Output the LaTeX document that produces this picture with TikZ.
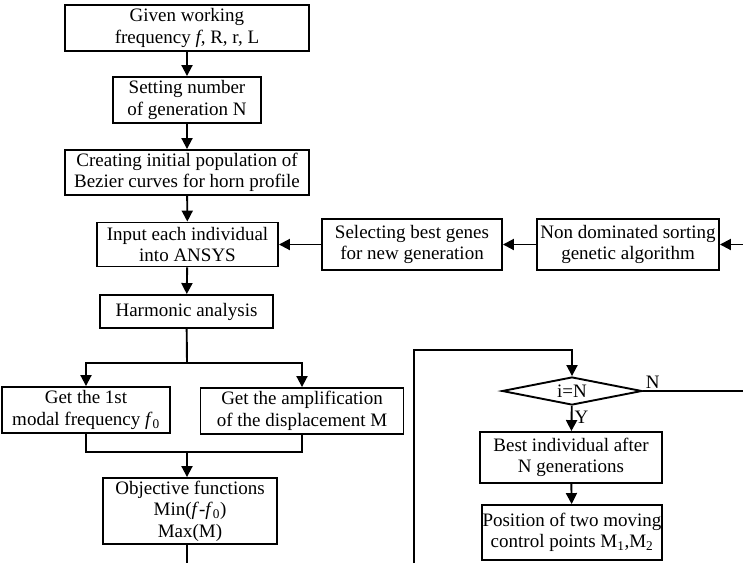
\documentclass[tikz,border=0pt]{standalone}
\usepackage{fontspec}
\setmainfont{Liberation Serif}
\usetikzlibrary{arrows.meta, positioning, calc, shapes.geometric}

\begin{document}
\begin{tikzpicture}[x=1pt, y=-1pt, line width=1.9pt,
    >={Triangle[width=11pt,length=11pt]},
    box/.style={draw, rectangle, align=center, inner sep=0pt,
        font=\fontsize{19}{21.5}\selectfont},
    decision/.style={draw, diamond, aspect=5, inner sep=0pt,
        minimum width=140pt, minimum height=28pt, font=\fontsize{19}{21.5}\selectfont},
    lbl/.style={inner sep=2pt, font=\fontsize{19}{21.5}\selectfont}]
    \useasboundingbox (0,0) rectangle (743,563);

    % left column
    \node[box, minimum width=244pt, minimum height=46pt] (given) at (187,28)
        {Given working\\frequency \textit{f}, R, r, L};
    \node[box, minimum width=148pt, minimum height=46pt] (setgen) at (187,100)
        {Setting number\\of generation N};
    \node[box, minimum width=244pt, minimum height=45pt] (init) at (187,172.5)
        {Creating initial population of\\Bezier curves for horn profile};
    \node[box, minimum width=181pt, minimum height=44pt] (input) at (187.5,244.5)
        {Input each individual\\into ANSYS};
    \node[box, minimum width=173pt, minimum height=33pt] (harm) at (186.5,311.5)
        {Harmonic analysis};
    \node[box, minimum width=168pt, minimum height=46pt] (freq) at (86,410)
        {Get the 1st\\modal frequency \textit{f}\textsubscript{0}};
    \node[box, minimum width=203pt, minimum height=46pt] (ampl) at (302,411)
        {Get the amplification\\of the displacement M};
    \node[box, minimum width=174pt, minimum height=66pt] (obj) at (190,511)
        {Objective functions\\Min(\textit{f}-\textit{f}\textsubscript{0})\\Max(M)};

    % feedback row
    \node[box, minimum width=180pt, minimum height=51pt] (select) at (412,244.5)
        {Selecting best genes\\for new generation};
    \node[box, minimum width=182pt, minimum height=51pt] (nsga) at (628,244.5)
        {Non dominated sorting\\genetic algorithm};

    % right column
    \node[decision] (cond) at (572,391) {\raisebox{-2pt}{i=N}};
    \node[box, minimum width=182pt, minimum height=51pt] (best) at (571,457.5)
        {Best individual after\\N generations};
    \node[box, minimum width=180pt, minimum height=55pt] (pos) at (572,532.5)
        {Position of two moving\\control points M\textsubscript{1},M\textsubscript{2}};

    \coordinate (split) at (187,363);
    \coordinate (join) at (187,452);
    \coordinate (objout) at (187,563);
    \coordinate (loopin) at (414,563);
    \coordinate (loop) at (414,350);
    \coordinate (nout) at (743,391);
    \coordinate (nin) at (743,244.5);

    \draw[->] (given) -- (setgen);
    \draw[->] (setgen) -- (init);
    \draw[->] (init) -- (input);
    \draw[->] (input) -- (harm);
    \draw (harm) -- (split);
    \draw[->] (split) -| (freq.north);
    \draw[->] (split) -| (ampl.north);
    \draw (freq) |- (join);
    \draw (ampl) |- (join);
    \draw[->] (join) -- (join |- obj.north);
    \draw (join |- obj.south) -- (objout);

    \draw[->] (nin) -- (nsga);
    \draw[->] (nsga) -- (select);
    \draw[->] (select) -- (input);

    \draw[->] (loopin) -- (loop) -| (cond.north);
    \draw (cond.east) -- (nout);
    \node[lbl, anchor=south west] (nlbl) at (cond.east) {N};
    \draw[->] (cond) -- (best) node[lbl, right, pos=0.45] (ylbl) {Y};
    \draw[->] (best) -- (pos);
\end{tikzpicture}
\end{document}
